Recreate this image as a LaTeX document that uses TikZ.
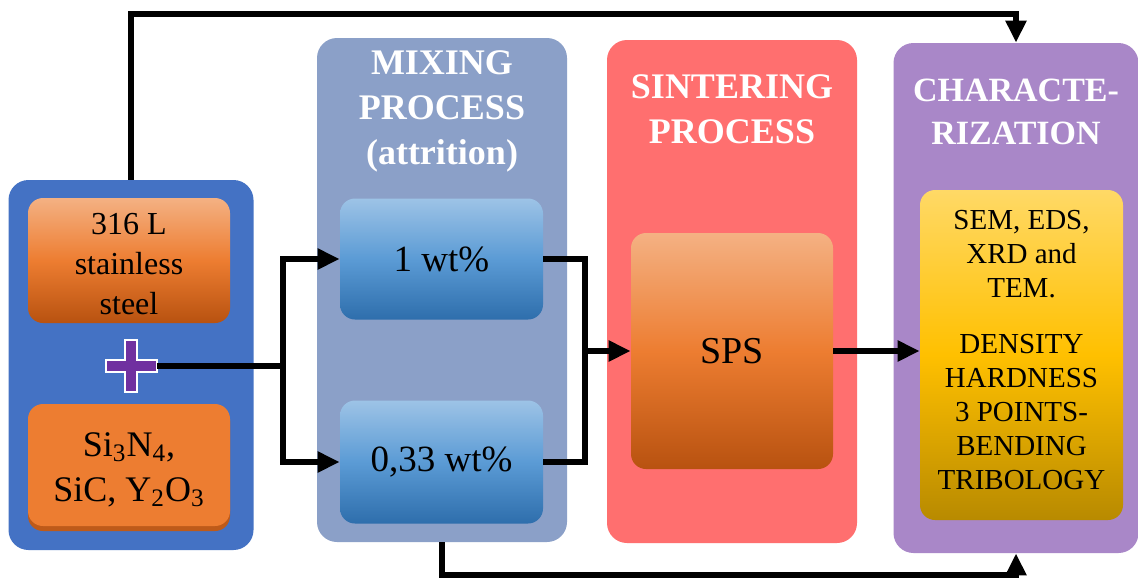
\documentclass[tikz,border=0pt]{standalone}
\usepackage{fontspec}
\setmainfont{Liberation Serif}
\usetikzlibrary{arrows.meta}

\definecolor{leftblue}{RGB}{68,114,196}
\definecolor{mixblue}{RGB}{139,160,200}
\definecolor{sinterred}{RGB}{255,111,111}
\definecolor{charpurple}{RGB}{169,135,200}
\definecolor{plusviolet}{RGB}{112,48,160}
\definecolor{orT}{RGB}{244,177,131}
\definecolor{orM}{RGB}{237,125,49}
\definecolor{orB}{RGB}{184,82,16}
\definecolor{orSolid}{RGB}{237,125,49}
\definecolor{orEdge}{RGB}{190,90,25}
\definecolor{blT}{RGB}{157,195,230}
\definecolor{blM}{RGB}{91,155,213}
\definecolor{blB}{RGB}{46,110,172}
\definecolor{yeT}{RGB}{255,217,102}
\definecolor{yeM}{RGB}{255,192,0}
\definecolor{yeB}{RGB}{184,138,0}

\begin{document}
\begin{tikzpicture}[x=0.5pt,y=-0.5pt,
  panel/.style={rectangle, rounded corners=10pt, inner sep=0pt, draw=none},
  inbox/.style={rectangle, rounded corners=7.5pt, inner sep=0pt, align=center, draw=none},
  lbl/.style={align=center, inner sep=0pt},
  title/.style={align=center, text=white, font=\bfseries\fontsize{18}{22.5}\selectfont},
  orangegrad/.style={top color=orT, bottom color=orB, middle color=orM},
  bluegrad/.style={top color=blT, bottom color=blB, middle color=blM},
  yellowgrad/.style={top color=yeT, bottom color=yeB, middle color=yeM},
  conn/.style={line width=3pt, draw=black},
  arr/.style={conn, -{Triangle[length=11pt,width=10pt]}}]
\useasboundingbox (0,0) rectangle (1138,580);
\fill[white] (0,0) rectangle (1138,580);

% starting materials
\node[panel, fill=leftblue, minimum width=122.5pt, minimum height=185pt] (left) at (131,365) {};
\node[inbox, orangegrad, minimum width=101pt, minimum height=62.5pt] (steel) at (129,260.5) {};
\node[lbl, font=\fontsize{16}{20}\selectfont] (steelLbl) at (129,264) {316 L\\stainless\\steel};
\node[inbox, fill=orEdge, minimum width=101pt, minimum height=62.5pt] (ceramicShadow) at (129,468.5) {};
\node[inbox, fill=orSolid, minimum width=101pt, minimum height=61pt] (ceramic) at (129,465) {};
\node[lbl, font=\fontsize{18}{22.5}\selectfont] (ceramicLbl) at (129,470)
  {Si\textsubscript{3}N\textsubscript{4},\\SiC, Y\textsubscript{2}O\textsubscript{3}};
\node[minimum width=25.5pt, minimum height=26pt, inner sep=0pt] (plus) at (131,366) {};
\filldraw[fill=plusviolet, draw=white, line width=1pt]
  (106,360) -- (125,360) -- (125,340) -- (137,340) -- (137,360) -- (157,360) -- (157,372)
  -- (137,372) -- (137,392) -- (125,392) -- (125,372) -- (106,372) -- cycle;

% mixing
\node[panel, fill=mixblue, minimum width=125pt, minimum height=252pt] (mix) at (442,290) {};
\node[title] (mixT) at (442,111) {MIXING\\PROCESS\\(attrition)};
\node[inbox, bluegrad, minimum width=101.5pt, minimum height=60.5pt,
      font=\fontsize{18.5}{22}\selectfont] (w1) at (441.5,259) {1 wt\%};
\node[inbox, bluegrad, minimum width=101.5pt, minimum height=61.5pt,
      font=\fontsize{18.5}{22}\selectfont] (w2) at (441.5,462) {0,33 wt\%};

% sintering
\node[panel, fill=sinterred, minimum width=125pt, minimum height=251.5pt] (sinter) at (732,291.5) {};
\node[title] (sinterT) at (732,109) {SINTERING\\PROCESS};
\node[inbox, orangegrad, minimum width=101pt, minimum height=118pt,
      font=\fontsize{19}{22}\selectfont] (sps) at (732,351) {SPS};

% characterization
\node[panel, fill=charpurple, minimum width=122.5pt, minimum height=255pt] (char) at (1016,298) {};
\node[title, font=\bfseries\fontsize{17}{21.5}\selectfont] (charT) at (1016,112) {CHARACTE-\\RIZATION};
\node[inbox, yellowgrad, minimum width=101.5pt, minimum height=165pt] (tests) at (1021.5,355) {};
\node[lbl, font=\fontsize{14.5}{17}\selectfont] (testsLbl) at (1021.5,350)
      {SEM, EDS,\\XRD and\\TEM.\\[11pt]DENSITY\\HARDNESS\\3 POINTS-\\BENDING\\TRIBOLOGY};

% connectors
\coordinate (split) at (283,366);
\coordinate (merge) at (585,351);
\draw[conn] (plus.east) -- (split);
\draw[arr] (split) |- (w1.west);
\draw[arr] (split) |- (w2.west);
\draw[conn] (w1.east) -| (merge);
\draw[conn] (w2.east) -| (merge);
\draw[arr] (merge) -- (sps.west);
\draw[arr] (sps.east) -- (sps.east -| tests.west);
\draw[arr] (left.north) -- (left.north |- 0,14) -| (char.north);
\draw[arr] (mix.south) -- (mix.south |- 0,575) -| (char.south);
\end{tikzpicture}
\end{document}
